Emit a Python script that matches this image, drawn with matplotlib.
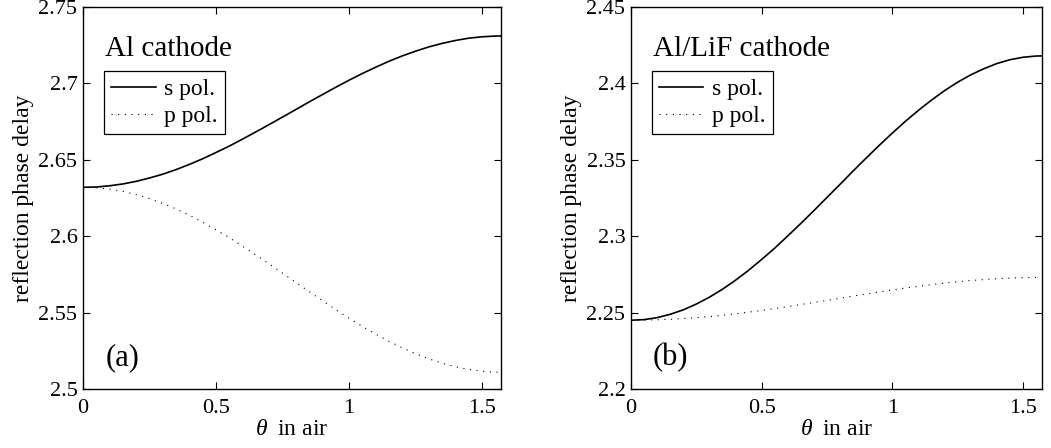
import numpy as np
import matplotlib
matplotlib.use("Agg")
import matplotlib.pyplot as plt

plt.rcParams["font.family"] = ["Liberation Serif", "DejaVu Serif"]
plt.rcParams["mathtext.fontset"] = "custom"
plt.rcParams["mathtext.rm"] = "Liberation Serif"
plt.rcParams["mathtext.it"] = "Liberation Serif:italic"

# incidence angle in air (rad), 0 .. pi/2
theta = [0.0, 0.05, 0.1, 0.15, 0.2, 0.25, 0.3, 0.35, 0.4, 0.45,
         0.5, 0.55, 0.6, 0.65, 0.7, 0.75, 0.8, 0.85, 0.9, 0.95,
         1.0, 1.05, 1.1, 1.15, 1.2, 1.25, 1.3, 1.35, 1.4, 1.45,
         1.5, 1.55, 1.5708]

# Al cathode
al_s = [2.6320, 2.6322, 2.6330, 2.6342, 2.6359, 2.6381, 2.6406, 2.6436,
        2.6470, 2.6507, 2.6548, 2.6590, 2.6636, 2.6683, 2.6731, 2.6780,
        2.6829, 2.6879, 2.6927, 2.6975, 2.7021, 2.7065, 2.7106, 2.7145,
        2.7180, 2.7211, 2.7239, 2.7262, 2.7281, 2.7296, 2.7305, 2.7310,
        2.7310]
al_p = [2.6320, 2.6317, 2.6308, 2.6293, 2.6272, 2.6246, 2.6214, 2.6178,
        2.6137, 2.6091, 2.6042, 2.5990, 2.5934, 2.5877, 2.5818, 2.5758,
        2.5697, 2.5637, 2.5578, 2.5519, 2.5463, 2.5409, 2.5359, 2.5312,
        2.5269, 2.5231, 2.5197, 2.5169, 2.5145, 2.5128, 2.5116, 2.5110,
        2.5110]

# Al/LiF cathode
lif_s = [2.2450, 2.2454, 2.2467, 2.2489, 2.2518, 2.2556, 2.2601, 2.2653,
         2.2712, 2.2777, 2.2848, 2.2922, 2.3002, 2.3084, 2.3168, 2.3254,
         2.3340, 2.3427, 2.3512, 2.3595, 2.3675, 2.3752, 2.3824, 2.3891,
         2.3953, 2.4008, 2.4056, 2.4096, 2.4130, 2.4155, 2.4171, 2.4179,
         2.4180]
lif_p = [2.2450, 2.2451, 2.2453, 2.2456, 2.2461, 2.2467, 2.2474, 2.2483,
         2.2492, 2.2503, 2.2514, 2.2526, 2.2539, 2.2553, 2.2566, 2.2580,
         2.2594, 2.2608, 2.2622, 2.2635, 2.2648, 2.2661, 2.2672, 2.2683,
         2.2693, 2.2702, 2.2710, 2.2716, 2.2722, 2.2726, 2.2729, 2.2730,
         2.2730]

xticks = [0, 0.5, 1, 1.5]
xticklabels = ["0", "0.5", "1", "1.5"]
al_yticks = [2.5, 2.55, 2.6, 2.65, 2.7, 2.75]
lif_yticks = [2.2, 2.25, 2.3, 2.35, 2.4, 2.45]

panels = [
    ([0.079, 0.1317, 0.3977, 0.8527], al_s, al_p, al_yticks, "Al cathode", "(a)"),
    ([0.6004, 0.1317, 0.3906, 0.8527], lif_s, lif_p, lif_yticks, "Al/LiF cathode", "(b)"),
]

fig = plt.figure(figsize=(10.51, 4.48), dpi=100)

for rect, s, p, yt, name, tag in panels:
    ax = fig.add_axes(rect)
    ax.plot(theta, s, color="k", lw=1.2, label="s pol.")
    ax.plot(theta, p, color="k", lw=0.8, linestyle=(0, (1, 5)), label="p pol.")
    ax.set_xlim(0, np.pi / 2)
    ax.set_ylim(yt[0], yt[-1])
    ax.set_xticks(xticks)
    ax.set_xticklabels(xticklabels)
    ax.set_yticks(yt)
    ax.set_yticklabels(["%g" % v for v in yt])
    ax.tick_params(direction="in", top=True, right=True, length=5,
                   labelsize=16)
    ax.tick_params(axis="x", pad=7)
    ax.tick_params(axis="y", pad=4)
    for sp in ax.spines.values():
        sp.set_linewidth(1.0)
    ax.set_xlabel(r"$\theta\;$ in air", fontsize=17, labelpad=1)
    ax.set_ylabel("reflection phase delay", fontsize=17, labelpad=3)
    ax.text(0.053, 0.872, name, transform=ax.transAxes, fontsize=21,
            ha="left", va="baseline")
    ax.text(0.053, 0.063, tag, transform=ax.transAxes, fontsize=22,
            ha="left", va="baseline")
    leg = ax.legend(loc="upper left", bbox_to_anchor=(0.05, 0.832),
                    borderaxespad=0, fontsize=17, fancybox=False,
                    edgecolor="k", framealpha=1, handlelength=1.9,
                    handletextpad=0.36, borderpad=0.3, labelspacing=0.25)
    leg.get_frame().set_linewidth(0.9)

fig.savefig("out.png", dpi=100)
